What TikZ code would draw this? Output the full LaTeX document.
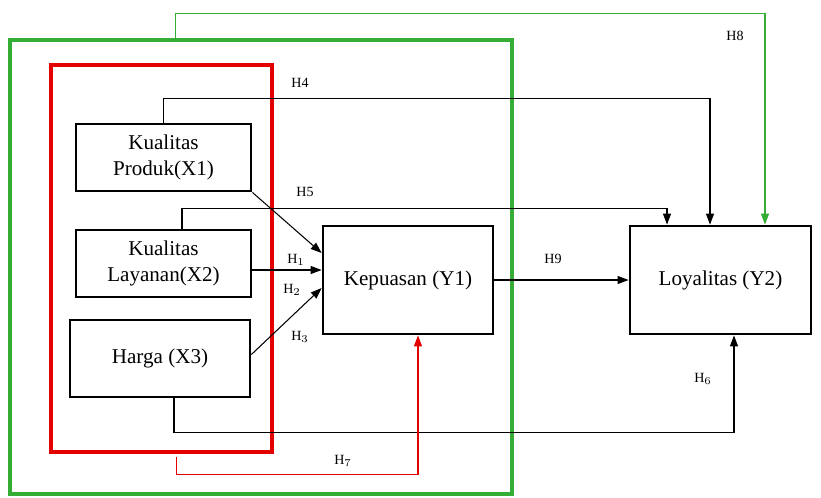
\documentclass[tikz,border=0pt]{standalone}
\usepackage{fontspec}
\setmainfont{Liberation Serif}
\usetikzlibrary{arrows.meta,positioning,calc}

\begin{document}
\begin{tikzpicture}[x=0.02cm, y=-0.02cm,
    var/.style={draw, line width=1.6pt, align=center, font=\fontsize{12}{15}\selectfont},
    frame/.style={draw, line width=1.8pt, inner sep=0pt},
    hyp/.style={font=\fontsize{8}{10}\selectfont},
    arrow/.style={-{Triangle[length=2.2mm,width=1.6mm]}, line width=0.6pt}
]
\useasboundingbox (0,0) rectangle (821,497);
% frames
\node[frame, draw=green!60!black!80, minimum width=10.04cm, minimum height=9.08cm] (outer) at (261,267) {};
\node[frame, draw=red!90!black, minimum width=4.42cm, minimum height=7.74cm] (inner) at (161.5,258.5) {};
% variables
\node[var, fill=white, minimum width=3.5cm, minimum height=1.34cm] (x1) at (163.5,157.5) {Kualitas\\Produk(X1)};
\node[var, fill=white, minimum width=3.5cm, minimum height=1.34cm] (x2) at (163.5,263.5) {Kualitas\\Layanan(X2)};
\node[var, fill=white, minimum width=3.6cm, minimum height=1.54cm] (x3) at (160,358.5) {Harga (X3)};
\node[var, minimum width=3.4cm, minimum height=2.16cm] (kep) at (408,280) {Kepuasan (Y1)};
\node[var, minimum width=3.62cm, minimum height=2.16cm] (loy) at (720.5,280) {Loyalitas (Y2)};
\coordinate (kin2) at ([yshift=0.2cm]kep.west);
% direct paths to Y1
\draw[arrow] (x1.south east) -- ([yshift=0.54cm]kep.west);
\draw[arrow] (x2.east |- kin2) -- (kin2);
\draw[arrow] ([yshift=0.08cm]x3.east) -- ([yshift=-0.16cm]kep.west);
\draw[arrow] (kep.east) -- (loy.west);
% paths to Y2
\draw[arrow] (x1.north) -- ++(0,-24) -| ([xshift=-0.21cm]loy.north);
\draw[arrow] ([xshift=0.37cm]x2.north) -- ++(0,-20) -| ([xshift=-1.07cm]loy.north);
\draw[arrow] ([xshift=0.28cm]x3.south) -- ++(0,34) -| ([xshift=0.27cm]loy.south);
\draw[arrow, color=green!60!black!80, line width=0.8pt] ([xshift=3.34cm]outer.north west) -- ++(0,-25) -| ([xshift=0.89cm]loy.north);
\draw[arrow, color=red!90!black, line width=0.6pt] ([xshift=2.54cm,yshift=-0.06cm]inner.south west) -- ++(0,18) -| ([xshift=0.2cm]kep.south);
% labels
\node[hyp] (h8) at (735,36) {H8};
\node[hyp] (h4) at (300,83) {H4};
\node[hyp] (h5) at (305,192) {H5};
\node[hyp] (h1) at (296,260) {H$_1$};
\node[hyp] (h2) at (292,290) {H$_2$};
\node[hyp] (h3) at (300,337) {H$_3$};
\node[hyp] (h9) at (553,259) {H9};
\node[hyp] (h6) at (703,379) {H$_6$};
\node[hyp] (h7) at (343,461) {H$_7$};
\end{tikzpicture}
\end{document}
